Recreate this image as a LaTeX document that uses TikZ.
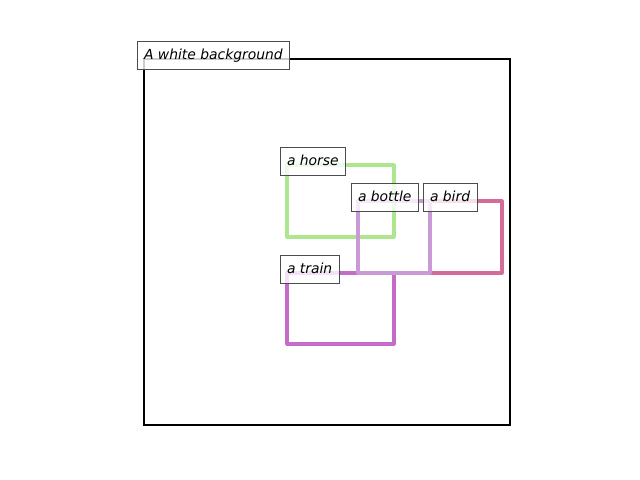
\documentclass[tikz,border=0pt]{standalone}
\usepackage{fontspec}
\setmainfont{DejaVu Sans}
\usepackage{tikz}

\definecolor{horsecol}{HTML}{AEE68F}
\definecolor{bottlecol}{HTML}{C99AD5}
\definecolor{birdcol}{HTML}{D46C9A}
\definecolor{traincol}{HTML}{C46CC8}

\tikzset{
	tag/.style={draw=black!70, line width=0.8pt, fill=white, fill opacity=0.8, text opacity=1,
		inner xsep=5pt, inner ysep=5.2pt, outer sep=0pt, text height=7.3pt, text depth=2.3pt,
		anchor=base west, font=\itshape\fontsize{10}{12}\selectfont},
	bbox/.style={line width=2.2pt, line cap=round, line join=round}
}

\begin{document}
\begin{tikzpicture}[x=0.72pt, y=-0.72pt]

	\useasboundingbox (0,0) rectangle (640,480);

	\coordinate (bg) at (144,59);
	\coordinate (horse) at (287,165);
	\coordinate (bird) at (430,201);
	\coordinate (train) at (287,273);
	\coordinate (bottle) at (358,201);

	\draw[line width=1.9pt] (bg) rectangle (510,425);
	\draw[bbox, horsecol] (horse) rectangle (394,237);
	\draw[bbox, birdcol] (bird) rectangle (502,273);
	\draw[bbox, traincol] (train) rectangle (394,344);
	\draw[bbox, bottlecol] (bottle) rectangle (430,273);

	\node[tag] (bgtag) at ([xshift=-5pt] bg) {A white background};
	\node[tag] (horsetag) at ([xshift=-5pt] horse) {a horse};
	\node[tag] (bottletag) at ([xshift=-5pt] bottle) {a bottle};
	\node[tag] (birdtag) at ([xshift=-5pt] bird) {a bird};
	\node[tag] (traintag) at ([xshift=-5pt] train) {a train};

\end{tikzpicture}
\end{document}
